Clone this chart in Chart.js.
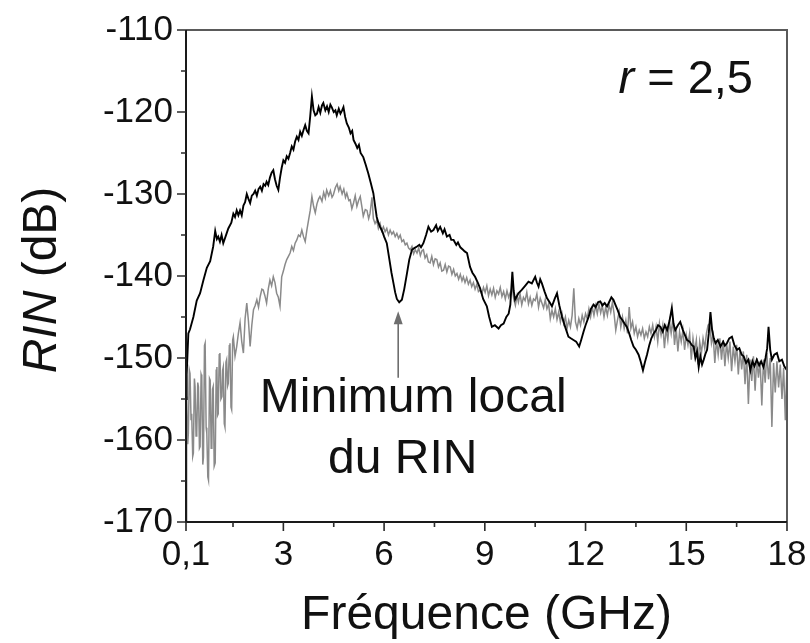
<!DOCTYPE html>
<html>
<head>
<meta charset="utf-8">
<script src="https://cdn.jsdelivr.net/npm/chart.js@4.4.1/dist/chart.umd.min.js"></script>
<style>
  html, body { margin: 0; padding: 0; background: #fff; }
  canvas { display: block; }
</style>
</head>
<body>
<canvas id="c" width="810" height="643"></canvas>
<script>
// ---------- data ----------
const xLabelValues = [0.1, 3, 6, 9, 12, 15, 18];
const xMinorValues = [1.5, 4.5, 7.5, 10.5, 13.5, 16.5];
const yLabelValues = [-170, -160, -150, -140, -130, -120, -110];
const yMinorValues = [-165, -155, -145, -135, -125, -115];

// black trace (frequency GHz / RIN dB)
const freqBlack = [
  0.10,0.12,0.17,0.22,0.32,0.42,0.52,0.62,0.72,0.82,
  0.91,0.97,1.02,1.06,1.11,1.16,1.21,1.31,1.36,1.45,
  1.51,1.56,1.61,1.66,1.71,1.76,1.81,1.86,1.91,1.96,
  2.01,2.06,2.11,2.16,2.21,2.26,2.31,2.36,2.41,2.46,
  2.50,2.55,2.60,2.65,2.70,2.75,2.80,2.85,2.90,2.95,
  3.00,3.05,3.10,3.15,3.20,3.25,3.30,3.35,3.40,3.45,
  3.50,3.55,3.60,3.65,3.70,3.75,3.80,3.85,3.90,3.95,
  4.00,4.05,4.10,4.15,4.19,4.25,4.30,4.35,4.40,4.44,
  4.50,4.55,4.59,4.65,4.70,4.75,4.79,4.84,4.89,4.95,
  5.00,5.05,5.09,5.15,5.20,5.25,5.30,5.38,5.45,5.53,
  5.60,5.68,5.73,5.78,5.83,5.88,5.95,6.00,6.08,6.15,
  6.22,6.28,6.33,6.38,6.45,6.53,6.60,6.68,6.75,6.83,
  6.90,6.98,7.05,7.10,7.17,7.25,7.32,7.40,7.47,7.55,
  7.60,7.67,7.75,7.80,7.87,7.95,8.00,8.07,8.15,8.20,
  8.27,8.35,8.40,8.47,8.56,8.63,8.71,8.80,8.86,8.95,
  9.06,9.13,9.21,9.30,9.41,9.48,9.56,9.64,9.71,9.76,
  9.82,9.86,9.90,9.95,10.0,10.1,10.2,10.3,10.4,10.5,
  10.55,10.6,10.65,10.7,10.78,10.85,10.93,11.0,11.08,11.15,
  11.22,11.3,11.4,11.49,11.56,11.64,11.72,11.81,11.87,11.94,
  12.0,12.09,12.16,12.24,12.3,12.37,12.44,12.5,12.57,12.64,
  12.7,12.77,12.83,12.9,12.96,13.03,13.1,13.16,13.23,13.3,
  13.36,13.43,13.5,13.58,13.64,13.71,13.77,13.83,13.9,13.96,
  14.03,14.1,14.16,14.23,14.3,14.36,14.43,14.5,14.57,14.62,
  14.67,14.75,14.82,14.9,14.96,15.02,15.1,15.16,15.22,15.27,
  15.32,15.37,15.42,15.47,15.52,15.57,15.62,15.67,15.72,15.77,
  15.82,15.87,15.94,16.02,16.1,16.15,16.21,16.28,16.36,16.43,
  16.51,16.58,16.65,16.71,16.78,16.85,16.91,16.97,17.03,17.1,
  17.17,17.23,17.3,17.36,17.41,17.45,17.5,17.55,17.62,17.7,
  17.77,17.85,17.92,18.0
];
const rinBlack = [
  -155,-152,-147,-146.5,-145,-143,-142.1,-140.5,-139,-138.2,
  -136.4,-134.5,-135.5,-135.2,-135.8,-135.0,-136,-134.8,-134.2,-133.5,
  -132.4,-132.8,-132.0,-132.6,-132,-132.6,-131.4,-131.0,-130.0,-130.6,
  -131.1,-130.2,-130.0,-129.6,-130.2,-129.4,-129.1,-129.6,-128.8,-129.0,
  -128.5,-128.9,-128.0,-127.4,-127.1,-128.2,-129.0,-129.5,-128.0,-126.8,
  -125.9,-126.2,-125.4,-125.7,-125,-124.2,-124.6,-123.6,-123,-123.4,
  -122.4,-122.9,-122.2,-121.6,-122.3,-122.6,-120.5,-118.1,-119.8,-120.4,
  -120.2,-119.4,-120.1,-119.2,-118.9,-119.8,-119.3,-120.0,-119.1,-119.4,
  -120.0,-119.8,-120.4,-119.6,-120.2,-119.8,-119.4,-120.6,-121.4,-121.9,
  -122.6,-122.3,-123.4,-123.9,-124.4,-124.0,-125.0,-125.5,-126.4,-127.5,
  -128.6,-129.9,-131.4,-132.8,-133.5,-134,-134.6,-135.2,-136,-137.8,
  -139.6,-140.9,-142.0,-142.8,-143.2,-142.9,-141.6,-139.7,-138.0,-136.8,
  -136.6,-136.4,-136.2,-136.5,-136.0,-135.0,-134,-134.6,-134.4,-133.8,
  -134.5,-134,-134.8,-134.3,-135.2,-135.0,-135.6,-135.6,-136.2,-135.9,
  -136.5,-136.8,-137.0,-137.2,-138.9,-139.6,-140.1,-140.9,-141.5,-142.8,
  -143.7,-145.0,-146.2,-146.0,-146.4,-146.0,-145.8,-145.0,-144.6,-143.5,
  -139.5,-141.8,-142.9,-142.5,-142.1,-141.7,-141.2,-140.7,-140.9,-140.1,
  -140.8,-141.3,-140.4,-140.9,-141.9,-142.7,-143.2,-143.7,-142.8,-142.1,
  -143.6,-145,-146.3,-147.4,-147.6,-147.8,-148.0,-148.6,-147.8,-146.8,
  -146.0,-145,-144.0,-143.5,-143.8,-143.2,-143.1,-143.6,-143.3,-143.7,
  -143.2,-142.6,-142.9,-143.6,-144.2,-145,-145.4,-145.8,-146.2,-147.0,
  -147.8,-148.6,-149.0,-149.6,-150.4,-151.5,-150.5,-149.6,-148.4,-147.6,
  -147,-146.6,-146.0,-146.2,-146.8,-146.0,-146.6,-145.5,-143.9,-145.8,
  -146.6,-146.0,-145.6,-146.6,-147.2,-147.8,-148.0,-148.4,-148.6,-150.0,
  -149.2,-151.1,-149.8,-150.8,-150.2,-149.5,-149,-147.0,-144.4,-146.6,
  -147.6,-148.2,-147.8,-148.6,-148.0,-148.5,-148.2,-147.6,-147.4,-148.4,
  -149,-148.8,-149.6,-149.8,-150.6,-150.2,-151.5,-150.4,-151.0,-150.2,
  -150.9,-150.4,-151.1,-150.0,-148.8,-146.2,-149.0,-150.2,-149.6,-149.4,
  -150.4,-150.2,-151.0,-151.5
];

// grey trace (frequency GHz / RIN dB)
const freqGrey = [
  0.10,0.12,0.15,0.17,0.20,0.22,0.25,0.27,0.30,0.32,
  0.35,0.37,0.40,0.42,0.45,0.47,0.50,0.52,0.55,0.57,
  0.60,0.62,0.65,0.67,0.70,0.72,0.75,0.77,0.80,0.82,
  0.85,0.87,0.89,0.91,0.94,0.97,1.00,1.02,1.04,1.06,
  1.09,1.11,1.14,1.17,1.19,1.21,1.24,1.26,1.29,1.31,
  1.34,1.36,1.39,1.41,1.44,1.46,1.49,1.51,1.56,1.61,
  1.66,1.71,1.76,1.81,1.86,1.91,1.96,2.01,2.06,2.11,
  2.16,2.21,2.26,2.31,2.36,2.40,2.45,2.50,2.55,2.60,
  2.65,2.70,2.75,2.80,2.85,2.90,2.95,3.00,3.05,3.10,
  3.15,3.20,3.25,3.30,3.35,3.40,3.45,3.50,3.55,3.60,
  3.65,3.70,3.75,3.80,3.85,3.90,3.95,4.00,4.05,4.09,
  4.15,4.20,4.25,4.29,4.35,4.40,4.45,4.49,4.55,4.60,
  4.65,4.69,4.75,4.80,4.85,4.89,4.95,4.99,5.04,5.09,
  5.14,5.19,5.24,5.29,5.34,5.38,5.44,5.49,5.54,5.58,
  5.64,5.68,5.73,5.78,5.83,5.88,5.93,5.98,6.03,6.08,
  6.13,6.18,6.23,6.28,6.33,6.38,6.43,6.48,6.53,6.58,
  6.63,6.68,6.73,6.78,6.83,6.88,6.93,6.98,7.03,7.08,
  7.13,7.17,7.22,7.27,7.32,7.37,7.42,7.47,7.52,7.57,
  7.62,7.67,7.72,7.77,7.82,7.87,7.92,7.97,8.02,8.07,
  8.12,8.17,8.22,8.27,8.32,8.36,8.41,8.46,8.51,8.56,
  8.61,8.66,8.71,8.76,8.81,8.86,8.91,8.96,9.01,9.06,
  9.11,9.16,9.21,9.26,9.31,9.36,9.41,9.46,9.51,9.56,
  9.61,9.66,9.71,9.76,9.82,9.86,9.91,9.96,10.0,10.05,
  10.1,10.15,10.2,10.25,10.3,10.35,10.4,10.45,10.5,10.55,
  10.6,10.65,10.7,10.75,10.8,10.85,10.9,10.95,11.0,11.05,
  11.1,11.15,11.2,11.25,11.3,11.35,11.4,11.45,11.5,11.55,
  11.6,11.65,11.7,11.75,11.8,11.85,11.9,11.95,12.0,12.05,
  12.1,12.15,12.2,12.25,12.3,12.35,12.4,12.45,12.5,12.55,
  12.6,12.65,12.7,12.75,12.8,12.85,12.9,12.95,13.0,13.05,
  13.1,13.15,13.2,13.25,13.3,13.35,13.4,13.45,13.5,13.55,
  13.6,13.65,13.7,13.75,13.8,13.85,13.9,13.95,14.0,14.05,
  14.1,14.15,14.2,14.25,14.3,14.35,14.4,14.45,14.5,14.55,
  14.6,14.65,14.7,14.75,14.8,14.85,14.9,14.95,15.0,15.05,
  15.1,15.15,15.2,15.25,15.3,15.35,15.4,15.45,15.5,15.55,
  15.6,15.65,15.7,15.75,15.8,15.85,15.9,15.95,16.0,16.05,
  16.1,16.15,16.2,16.25,16.3,16.35,16.4,16.45,16.5,16.55,
  16.6,16.65,16.7,16.75,16.8,16.85,16.9,16.95,17.0,17.05,
  17.1,17.15,17.2,17.25,17.3,17.35,17.4,17.45,17.5,17.55,
  17.6,17.65,17.7,17.75,17.8,17.85,17.9,17.95,18.0
];
const rinGrey = [
  -170,-154.7,-160.5,-159.2,-151.5,-151.9,-157.5,-156.8,-162.0,-161.6,
  -152.5,-153.5,-159.5,-159.2,-153.0,-153.5,-161.0,-160.8,-152.0,-152.3,
  -163.0,-162.1,-148.5,-148.2,-158.5,-159.2,-164.5,-164.9,-152.5,-152.7,
  -161.0,-160.8,-153.8,-153.5,-163.2,-162.8,-151.5,-151.1,-157.0,-156.8,
  -149.6,-149.4,-155.0,-154.7,-151.5,-151.1,-158.0,-158.4,-150.5,-150.2,
  -153.4,-153.1,-148.5,-148.2,-156.0,-156.3,-147.8,-147.4,-149.8,-148.6,
  -147.0,-145.7,-148.0,-149.4,-145.2,-143.3,-145.5,-148.6,-146.0,-144.1,
  -143.6,-142.9,-143.8,-142.5,-141.6,-141.7,-142.4,-143.3,-141.6,-140.5,
  -141.2,-140.1,-140.8,-142.1,-142.6,-143.7,-140.1,-139.4,-138.6,-138.0,
  -137.6,-137.2,-136.4,-136.9,-136.0,-135.6,-135.0,-135.2,-134.4,-135.2,
  -135.8,-134.4,-133.2,-132.0,-130.3,-131.5,-132.3,-131.2,-130.6,-130.3,
  -130.9,-129.8,-130.5,-129.5,-130.2,-129.6,-130.4,-130.1,-129.2,-128.8,
  -129.6,-129.1,-130.0,-129.4,-130.4,-129.9,-130.8,-130.7,-131.8,-131.1,
  -130.2,-131.5,-130.8,-130.3,-131.6,-132.7,-131.9,-132.0,-133.0,-132.4,
  -130.4,-133.0,-133.6,-133.2,-134.2,-133.6,-134.5,-134,-134.6,-134.2,
  -135.0,-134.4,-134.9,-134.6,-135.2,-134.8,-135.4,-135.0,-135.8,-135.6,
  -136.2,-136.0,-136.6,-136.8,-136.4,-137.3,-136.8,-137.2,-136.6,-137.5,
  -136.9,-136.8,-137.8,-137.4,-138.3,-138.4,-137.6,-138.6,-137.9,-138,
  -138.9,-138.4,-139.4,-139.3,-138.6,-139.5,-138.8,-138.9,-139.8,-139.2,
  -140.0,-139.7,-140.4,-139.8,-140.6,-140.1,-140.8,-140.2,-141.0,-140.5,
  -141.3,-140.8,-141.6,-141.0,-141.9,-141.7,-142.2,-141.4,-142.0,-141.2,
  -142.4,-141.6,-142.3,-141.5,-142.6,-141.8,-142.2,-141.4,-142.5,-141.9,
  -142.8,-141.8,-142.6,-142.0,-141.5,-142.8,-143.6,-142.4,-143.2,-142.2,
  -143.5,-142.6,-143.0,-142.0,-143.4,-142.6,-143.6,-142.8,-143.0,-142.2,
  -143.8,-142.7,-143.3,-143.9,-142.9,-144.0,-143.4,-145.2,-144.2,-145.0,
  -144.0,-145.3,-144.4,-145.6,-144.6,-145.8,-145.0,-146.4,-145.4,-146.2,
  -144.8,-141.5,-145.6,-146.4,-145.2,-146.0,-144.8,-145.6,-144.6,-145.2,
  -144.0,-145.0,-143.8,-144.8,-143.6,-144.6,-143.4,-144.5,-143.6,-145.0,
  -143.8,-144.8,-143.5,-144.4,-143.2,-144.6,-146.6,-145.4,-144.4,-146.2,
  -145.0,-146.4,-145.4,-147.0,-143.8,-146.4,-145.6,-147.0,-146.2,-147.4,
  -146.6,-147.2,-146.4,-147.6,-146.8,-147.4,-146.2,-147.0,-146.0,-147.4,
  -146.2,-148.0,-145.8,-147.2,-146.0,-148.8,-146.4,-147.8,-145.6,-147.0,
  -145.2,-148.4,-146.4,-149.2,-146.8,-148.0,-146.6,-149.0,-147.2,-148.4,
  -147.0,-150.2,-147.6,-149.2,-147.8,-150.8,-148.0,-149.4,-147.6,-148.8,
  -147.0,-146.0,-145.8,-148.2,-147.2,-150.6,-147.8,-149.6,-147.6,-150.2,
  -147.8,-151.0,-148.2,-150.0,-148.0,-151.6,-148.6,-150.4,-148.4,-152.0,
  -149.0,-151.4,-149.2,-153.2,-149.6,-155.6,-150.2,-152.8,-149.8,-154.0,
  -150.0,-152.4,-150.4,-155.8,-150.2,-153.0,-149.4,-152.6,-150.0,-158.4,
  -150.6,-154.2,-150.4,-153.6,-150.8,-155.0,-151.2,-157.6,-151.0
];

// ---------- drawing ----------
const FONT = "'Liberation Sans', Arial, Helvetica, sans-serif";
const toPts = (xs, ys) => xs.map((x, i) => ({ x: x, y: ys[i] }));

const decor = {
  id: 'decor',
  afterDatasetsDraw(chart) {
    const ctx = chart.ctx;
    const a = chart.chartArea;
    const xs = chart.scales.x, ys = chart.scales.y;
    ctx.save();
    // frame: top & right lighter, left & bottom dark axes
    ctx.lineWidth = 2;
    ctx.strokeStyle = '#5a5a5a';
    ctx.beginPath();
    ctx.moveTo(a.left, a.top); ctx.lineTo(a.right, a.top); ctx.lineTo(a.right, a.bottom);
    ctx.stroke();
    ctx.strokeStyle = '#1a1a1a';
    ctx.beginPath();
    ctx.moveTo(a.left, a.top); ctx.lineTo(a.left, a.bottom); ctx.lineTo(a.right, a.bottom);
    ctx.stroke();
    // ticks (outward)
    ctx.lineWidth = 1.6;
    ctx.strokeStyle = '#2a2a2a';
    ctx.beginPath();
    yLabelValues.forEach(v => { const p = ys.getPixelForValue(v); ctx.moveTo(a.left - 9, p); ctx.lineTo(a.left, p); });
    yMinorValues.forEach(v => { const p = ys.getPixelForValue(v); ctx.moveTo(a.left - 5, p); ctx.lineTo(a.left, p); });
    xLabelValues.forEach(v => { const p = xs.getPixelForValue(v); ctx.moveTo(p, a.bottom); ctx.lineTo(p, a.bottom + 9); });
    xMinorValues.forEach(v => { const p = xs.getPixelForValue(v); ctx.moveTo(p, a.bottom); ctx.lineTo(p, a.bottom + 5); });
    ctx.stroke();

    ctx.fillStyle = '#111';
    ctx.textBaseline = 'alphabetic';
    // x axis title
    ctx.font = `48px ${FONT}`;
    ctx.textAlign = 'center';
    ctx.fillText('Fréquence (GHz)', (a.left + a.right) / 2, 629);
    // y axis title (RIN italic)
    ctx.save();
    ctx.translate(56, (a.top + a.bottom) / 2 + 4);
    ctx.rotate(-Math.PI / 2);
    ctx.font = `italic 48px ${FONT}`;
    const w1 = ctx.measureText('RIN').width;
    ctx.font = `48px ${FONT}`;
    const w2 = ctx.measureText(' (dB)').width;
    ctx.textAlign = 'left';
    ctx.font = `italic 48px ${FONT}`;
    ctx.fillText('RIN', -(w1 + w2) / 2, 0);
    ctx.font = `48px ${FONT}`;
    ctx.fillText(' (dB)', -(w1 + w2) / 2 + w1, 0);
    ctx.restore();

    // r = 2,5 label
    ctx.textAlign = 'left';
    ctx.font = `italic 47px ${FONT}`;
    const wr = ctx.measureText('r').width;
    ctx.font = `47px ${FONT}`;
    const wrest = ctx.measureText(' = 2,5').width;
    const rx = a.right - 34 - (wr + wrest);
    ctx.font = `italic 47px ${FONT}`;
    ctx.fillText('r', rx, a.top + 63);
    ctx.font = `47px ${FONT}`;
    ctx.fillText(' = 2,5', rx + wr, a.top + 63);

    // annotation arrow pointing at the local minimum
    const ax = xs.getPixelForValue(6.42);
    const yTip = ys.getPixelForValue(-144.3);
    const yTail = ys.getPixelForValue(-152.4);
    ctx.strokeStyle = '#6e6e6e';
    ctx.fillStyle = '#6e6e6e';
    ctx.lineWidth = 1.6;
    ctx.beginPath(); ctx.moveTo(ax, yTail); ctx.lineTo(ax, yTip + 8); ctx.stroke();
    ctx.beginPath(); ctx.moveTo(ax, yTip); ctx.lineTo(ax - 4.5, yTip + 13); ctx.lineTo(ax + 4.5, yTip + 13); ctx.closePath(); ctx.fill();

    // annotation text
    ctx.fillStyle = '#111';
    ctx.font = `48px ${FONT}`;
    ctx.textAlign = 'left';
    ctx.fillText('Minimum local', xs.getPixelForValue(2.3), ys.getPixelForValue(-156.6));
    ctx.fillText('du RIN', xs.getPixelForValue(4.33), ys.getPixelForValue(-164.0));
    ctx.restore();
  }
};

new Chart(document.getElementById('c'), {
  type: 'line',
  data: {
    datasets: [
      {
        label: 'noir',
        data: toPts(freqBlack, rinBlack),
        borderColor: '#000000',
        borderWidth: 1.9,
        pointRadius: 0,
        tension: 0,
        order: 1
      },
      {
        label: 'gris',
        data: toPts(freqGrey, rinGrey),
        borderColor: '#8a8a8a',
        borderWidth: 1.5,
        pointRadius: 0,
        tension: 0,
        order: 2
      }
    ]
  },
  options: {
    responsive: false,
    animation: false,
    devicePixelRatio: 1,
    layout: { padding: { top: 30, right: 23, left: 0, bottom: 0 } },
    plugins: { legend: { display: false }, tooltip: { enabled: false } },
    scales: {
      x: {
        type: 'linear',
        min: 0.1,
        max: 18,
        afterBuildTicks: s => { s.ticks = xLabelValues.map(v => ({ value: v })); },
        afterFit: s => { s.height = 121; s.paddingLeft = 0; s.paddingRight = 0; },
        grid: { display: false, drawTicks: false },
        border: { display: false },
        ticks: {
          autoSkip: false,
          maxRotation: 0,
          padding: 12,
          color: '#111',
          font: { family: FONT, size: 35 },
          callback: v => String(v).replace('.', ',')
        }
      },
      y: {
        type: 'linear',
        min: -170,
        max: -110,
        afterBuildTicks: s => { s.ticks = yLabelValues.map(v => ({ value: v })); },
        afterFit: s => { s.width = 186; s.paddingTop = 0; s.paddingBottom = 0; },
        grid: { display: false, drawTicks: false },
        border: { display: false },
        ticks: {
          autoSkip: false,
          padding: 13,
          color: '#111',
          font: { family: FONT, size: 35 },
          callback: v => String(v)
        }
      }
    }
  },
  plugins: [decor]
});
</script>
</body>
</html>
